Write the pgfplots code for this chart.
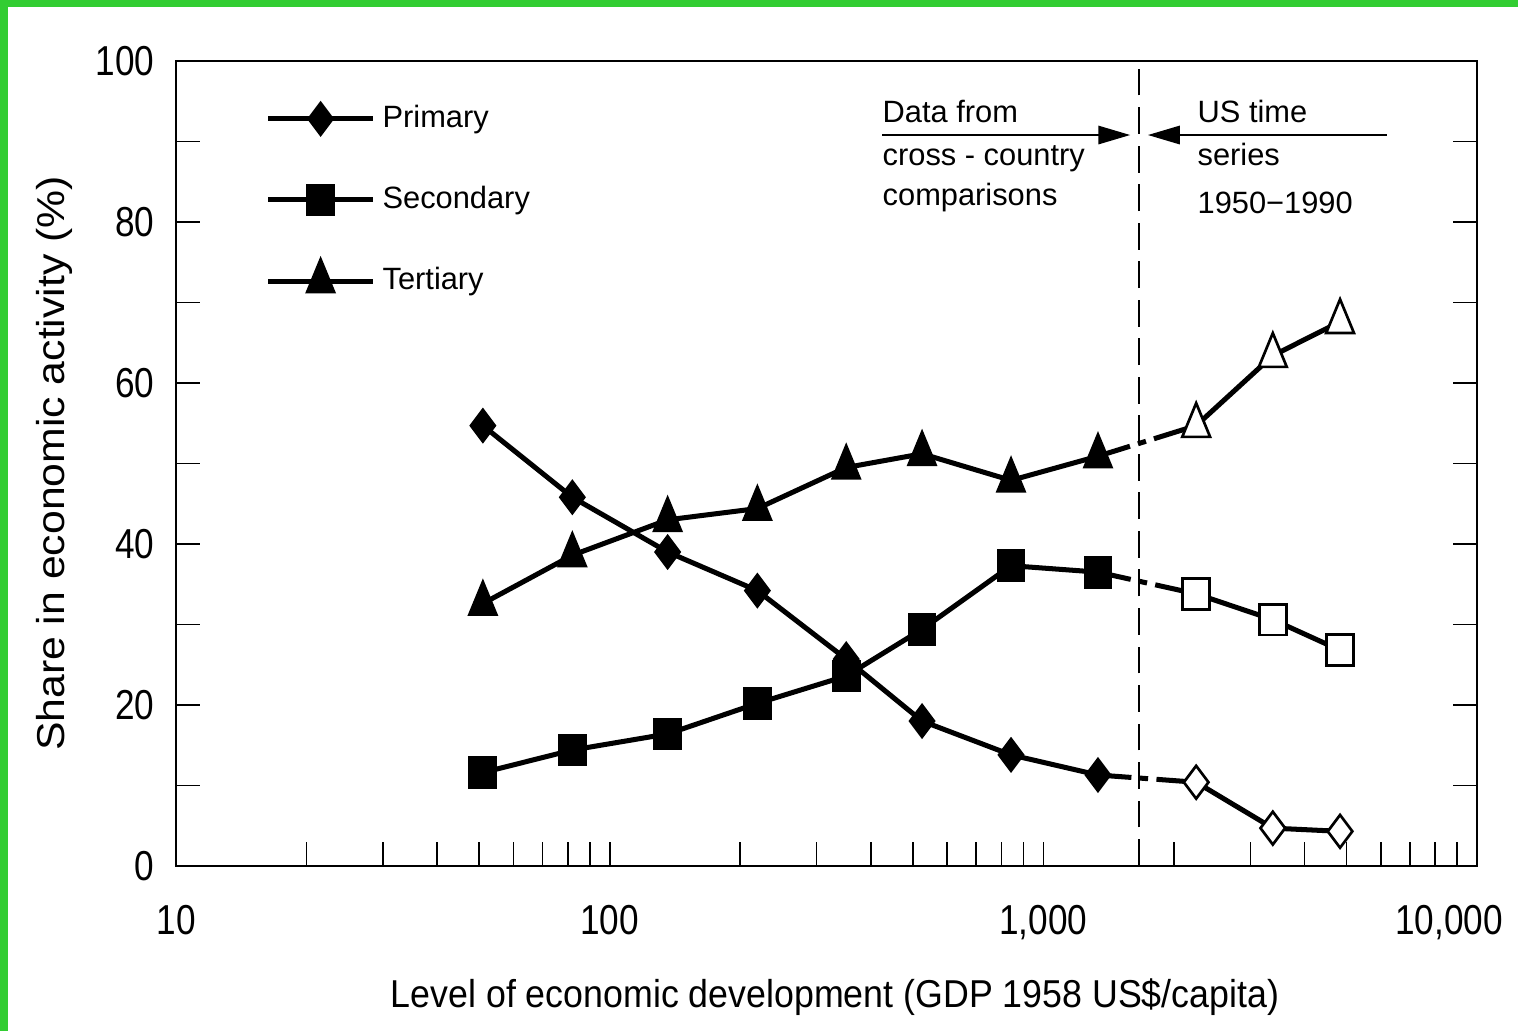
\documentclass[border=0pt]{standalone}
\usepackage{fontspec}
\setmainfont{Liberation Sans}
\newfontfamily\tickfont{Liberation Sans}[FakeStretch=0.84]
\newfontfamily\xlabfont{Liberation Sans}[FakeStretch=0.92]
\newfontfamily\ylabfont{Liberation Sans}[FakeStretch=1.1]
\usepackage{pgfplots}
\pgfplotsset{compat=1.18}
\usetikzlibrary{arrows.meta}
\definecolor{framegreen}{RGB}{50,205,50}

\pgfplotsset{
  prim/.style={black, line width=1.5pt, mark=diamond*, mark size=4.9pt,
    mark options={solid, line width=0.6pt, fill=black}},
  seco/.style={black, line width=1.5pt, mark=square*, mark size=4pt,
    mark options={solid, line width=0.6pt, fill=black, yscale=1.15}},
  tert/.style={black, line width=1.5pt, mark=triangle*, mark size=4.8pt,
    mark options={solid, line width=0.6pt, fill=black, yscale=1.4}},
  primo/.style={prim, mark options={solid, line width=0.8pt, fill=white}},
  secoo/.style={seco, mark options={solid, line width=0.8pt, fill=white, yscale=1.15}},
  terto/.style={tert, mark options={solid, line width=0.8pt, fill=white, yscale=1.4}},
  bridge/.style={black, line width=1.5pt, no markers, dash pattern=on 10pt off 2.5pt on 2.5pt off 2.5pt},
}

\begin{document}
\begin{tikzpicture}
\useasboundingbox (-52.54pt,-49.25pt) rectangle (400.6pt,258.5pt);
\fill[framegreen] (-52.54pt,-49.25pt) rectangle (-50.15pt,258.5pt);
\fill[framegreen] (-52.54pt,256.4pt) rectangle (400.6pt,258.5pt);
\begin{axis}[
  at={(0,0)}, anchor=south west,
  scale only axis, width=388.4pt, height=240.3pt,
  xmode=log, xmin=10, xmax=10000,
  ymin=0, ymax=100,
  xtick={10,100,1000,10000},
  xticklabels={10,100,{1,000},{\hspace*{-16.7pt}10,000}},
  xtick pos=bottom,
  ytick={0,20,40,60,80,100},
  minor ytick={10,30,50,70,90},
  ytick pos=both,
  tick align=inside,
  major tick length=7.2pt, minor tick length=7.2pt,
  tick style={black, line width=0.5pt},
  axis line style={line width=0.8pt},
  /pgf/number format/assume math mode=true,
  tick label style={font=\tickfont\fontsize{12.5}{14}\selectfont},
  xticklabel style={anchor=north, inner sep=0pt, yshift=-11.6pt},
  yticklabel style={anchor=east, inner sep=0pt, xshift=-6.3pt},
  xlabel={Level of economic development (GDP 1958 US\$/capita)},
  ylabel={Share in economic activity (\%)},
  every axis x label/.style={at={(axis description cs:0.5065,-0.1764)}, anchor=base,
    inner sep=0pt, font=\xlabfont\fontsize{11.6}{13}\selectfont},
  every axis y label/.style={at={(axis description cs:-0.086,0.5)}, rotate=90, anchor=base,
    inner sep=0pt, font=\ylabfont\fontsize{11.6}{13}\selectfont},
  legend style={draw=none, fill=none, at={(axis description cs:0.0684,0.958)},
    anchor=north west, inner sep=0pt, row sep=10.2pt, column sep=2.1pt,
    font=\fontsize{9.2}{11}\selectfont, nodes={inner sep=0pt}},
  legend cell align=left,
  legend image code/.code={
    \path[draw=none, fill=none] (0pt,-7pt) rectangle (31.3pt,7pt);
    \draw[mark repeat=2, mark phase=2, #1]
      plot coordinates {(0pt,0pt) (15.65pt,0pt) (31.3pt,0pt)};},
  clip=false,
]

% cross-country comparisons (filled marks)
\addplot[prim] coordinates {
  (51,54.7) (82,45.8) (136,39.0) (219,34.2) (351,25.7) (525,18.0) (842,13.8) (1336,11.3)
};
\addlegendentry{Primary}
\addplot[seco] coordinates {
  (51,11.6) (82,14.4) (136,16.4) (219,20.2) (351,23.6) (525,29.4) (842,37.3) (1336,36.5)
};
\addlegendentry{Secondary}
\addplot[tert] coordinates {
  (51,32.6) (82,38.6) (136,43.0) (219,44.4) (351,49.5) (525,51.2) (842,47.9) (1336,50.9)
};
\addlegendentry{Tertiary}

% dashed links to the US time series
\addplot[bridge, forget plot] coordinates {(1336,11.3) (2250,10.4)};
\addplot[bridge, forget plot] coordinates {(1336,36.5) (2250,33.8)};
\addplot[bridge, forget plot] coordinates {(1336,50.9) (2250,54.7)};

% US time series 1950-1990 (open marks)
\addplot[primo, forget plot] coordinates {(2250,10.4) (3380,4.7) (4830,4.3)};
\addplot[secoo, forget plot] coordinates {(2250,33.8) (3380,30.6) (4830,26.8)};
\addplot[terto, forget plot] coordinates {(2250,54.7) (3380,63.4) (4830,67.6)};

% divider and annotations
\draw[line width=0.4pt, dash pattern=on 8pt off 3.5pt] (axis cs:1661,0) -- (axis cs:1661,100);
\draw[line width=0.5pt, -{Triangle[length=9.5pt,width=5.5pt]}] (axis cs:424.6,90.8) -- (axis cs:1585,90.8);
\draw[line width=0.5pt, -{Triangle[length=9.5pt,width=5.5pt]}] (axis cs:6194,90.8) -- (axis cs:1742,90.8);
\begin{scope}[every node/.style={anchor=base west, inner sep=0pt, font=\fontsize{9.2}{11}\selectfont}]
\node at (axis cs:424.6,92.4) {Data from};
\node at (axis cs:424.6,87.0) {cross - country};
\node at (axis cs:424.6,82.0) {comparisons};
\node at (axis cs:2260,92.4) {US time};
\node at (axis cs:2260,87.0) {series};
\node at (axis cs:2260,81.0) {1950−1990};
\end{scope}
\end{axis}
\end{tikzpicture}
\end{document}
